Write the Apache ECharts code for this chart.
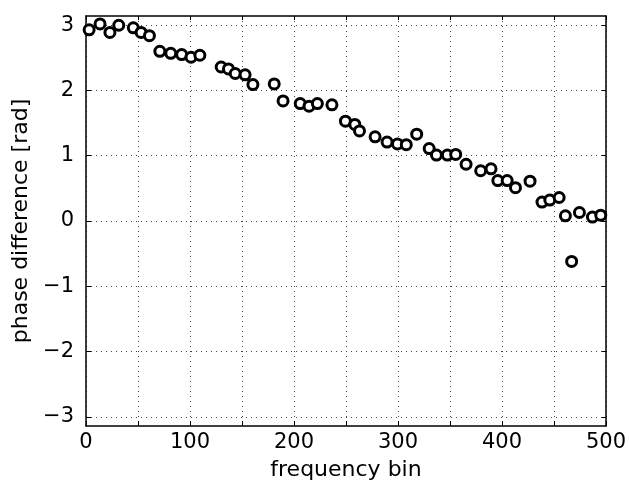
<!DOCTYPE html>
<html>
<head>
<meta charset="utf-8">
<script src="https://cdn.jsdelivr.net/npm/echarts@6/dist/echarts.min.js"></script>
<style>
  html, body { margin: 0; padding: 0; background: #fff; }
  #chart { width: 629px; height: 486px; }
</style>
</head>
<body>
<div id="chart"></div>
<script>
// frequency bin of each estimate
var bins = [3, 13.5, 23, 31.5, 45.5, 53, 61, 71, 81.5, 92, 101, 109.5,
  130, 137, 143.5, 153, 160.5, 181, 189.5, 206, 214.5, 222.5, 236.5,
  249.5, 258.5, 263, 278, 289.5, 299.5, 308, 318, 330, 337, 347.5, 355.5,
  365.5, 379.5, 389.5, 396, 405, 413, 427, 438.5, 446, 455, 461, 467,
  474.5, 487, 495]
// phase difference in rad
var phase = [2.93, 3.02, 2.89, 3.0, 2.96, 2.89, 2.84, 2.6, 2.57, 2.55, 2.51, 2.54,
  2.36, 2.33, 2.26, 2.24, 2.09, 2.1, 1.84, 1.8, 1.76, 1.8, 1.78,
  1.53, 1.48, 1.38, 1.29, 1.21, 1.18, 1.17, 1.33, 1.11, 1.01, 1.01, 1.02,
  0.87, 0.77, 0.8, 0.62, 0.62, 0.51, 0.61, 0.29, 0.32, 0.36, 0.08, -0.62,
  0.13, 0.06, 0.09]
var yTicks = [-3, -2, -1, 0, 1, 2, 3]

var points = bins.map(function (b, i) { return [b, phase[i]] })

var font = 'DejaVu Sans'
var gridLine = { show: true, lineStyle: { color: '#444', type: [1, 4], width: 1 } }
var chart = echarts.init(document.getElementById('chart'))

chart.setOption({
  animation: false,
  grid: { left: 86, right: 23, top: 16, bottom: 59 },
  xAxis: [{
    type: 'value',
    min: 0,
    max: 500,
    interval: 50,
    name: 'frequency bin',
    nameLocation: 'middle',
    nameGap: 33,
    nameTextStyle: { color: '#000', fontSize: 22, fontFamily: font },
    axisLine: { onZero: false, lineStyle: { color: '#000', width: 1.5 } },
    axisTick: { inside: true, length: 5, lineStyle: { color: '#000' } },
    axisLabel: {
      color: '#000', fontSize: 21, fontFamily: font, margin: 6,
      formatter: function (v) { return v % 100 === 0 ? String(v) : '' }
    },
    splitLine: gridLine
  }, {
    type: 'value',
    position: 'top',
    min: 0,
    max: 500,
    interval: 50,
    axisLine: { show: true, onZero: false, lineStyle: { color: '#000', width: 1.5 } },
    axisTick: { inside: true, length: 4, lineStyle: { color: '#000' } },
    axisLabel: { show: false },
    splitLine: { show: false }
  }],
  yAxis: [{
    type: 'value',
    min: -Math.PI,
    max: Math.PI,
    name: 'phase difference [rad]',
    nameLocation: 'middle',
    nameGap: 53,
    nameTextStyle: { color: '#000', fontSize: 22, fontFamily: font },
    axisLine: { show: true, onZero: false, lineStyle: { color: '#000', width: 1.5 } },
    axisTick: { inside: true, length: 5, customValues: yTicks, lineStyle: { color: '#000' } },
    axisLabel: {
      color: '#000', fontSize: 21, fontFamily: font, margin: 12,
      customValues: yTicks,
      formatter: function (v) { return v < 0 ? '\u2212' + (-v) : String(v) }
    },
    splitLine: gridLine
  }, {
    type: 'value',
    position: 'right',
    min: -Math.PI,
    max: Math.PI,
    axisLine: { show: true, onZero: false, lineStyle: { color: '#000', width: 1.5 } },
    axisTick: { inside: true, length: 4, customValues: yTicks, lineStyle: { color: '#000' } },
    axisLabel: { show: false },
    splitLine: { show: false }
  }],
  series: [{
    type: 'scatter',
    data: points,
    symbol: 'circle',
    symbolSize: 10,
    itemStyle: { color: '#fff', borderColor: '#000', borderWidth: 3, opacity: 1 }
  }]
})
</script>
</body>
</html>
